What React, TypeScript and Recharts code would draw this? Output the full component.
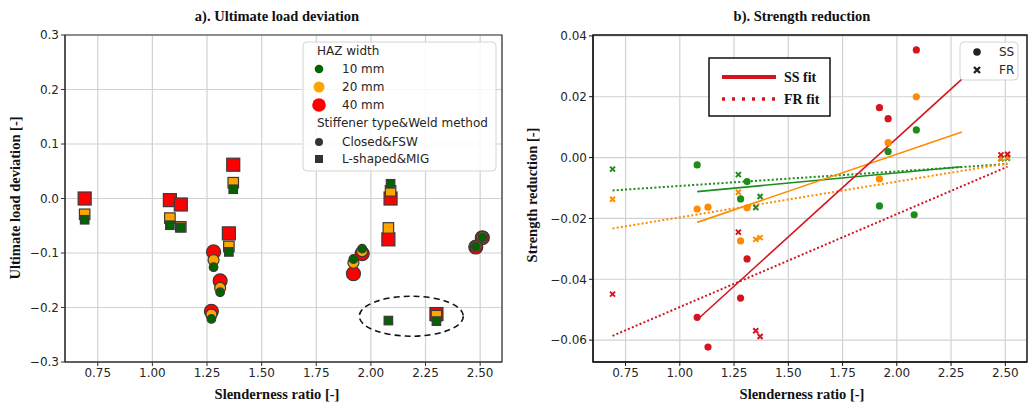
import {
  ScatterChart,
  Scatter,
  XAxis,
  YAxis,
  CartesianGrid,
  ReferenceArea,
  ReferenceDot,
} from "recharts";

// a). Ultimate load deviation -- squares = L-shaped&MIG, circles = Closed&FSW
const squareX = [0.69, 1.08, 1.13, 1.37, 1.35, 2.09, 2.08, 2.3];
const square10 = [-0.039, -0.049, -0.053, 0.017, -0.098, 0.027, -0.224, -0.225];
const square20 = [-0.029, -0.036, -0.052, 0.029, -0.088, 0.014, -0.054, -0.215];
const square40 = [0.0, -0.003, -0.011, 0.062, -0.064, 0.0, -0.075, -0.212];

const circleX = [1.28, 1.31, 1.27, 1.92, 1.96, 2.48, 2.51];
const circle10 = [-0.126, -0.172, -0.221, -0.111, -0.092, -0.088, -0.071];
const circle20 = [-0.113, -0.164, -0.213, -0.118, -0.097, -0.088, -0.071];
const circle40 = [-0.098, -0.151, -0.207, -0.138, -0.101, -0.089, -0.072];

// b). Strength reduction -- SS (circles) and FR (crosses)
const ssRedX = [1.08, 1.13, 1.28, 1.31, 1.92, 1.96, 2.09];
const ssRed = [-0.0525, -0.0623, -0.0462, -0.0333, 0.0164, 0.0128, 0.0354];
const ssOrangeX = [1.08, 1.13, 1.28, 1.31, 1.92, 1.96, 2.09];
const ssOrange = [-0.0169, -0.0163, -0.0274, -0.0165, -0.007, 0.0049, 0.02];
const ssGreenX = [1.08, 1.28, 1.31, 1.92, 1.96, 2.08, 2.09];
const ssGreen = [-0.0024, -0.0136, -0.0079, -0.0159, 0.002, -0.0188, 0.0091];

const frX = [0.69, 1.27, 1.35, 1.37, 2.48, 2.51];
const frGreen = [-0.0038, -0.0056, -0.0164, -0.0128, -0.0004, -0.0002];
const frOrange = [-0.0137, -0.0114, -0.0269, -0.0263, -0.0002, 0.0];
const frRed = [-0.0449, -0.0245, -0.0569, -0.0588, 0.0009, 0.0011];

// fitted lines (end points)
const ssFitX = [1.08, 2.3];
const ssFitRed = [-0.0533, 0.0258];
const ssFitOrange = [-0.0213, 0.0084];
const ssFitGreen = [-0.0112, -0.003];
const frFitX = [0.69, 2.51];
const frFitRed = [-0.0586, -0.003];
const frFitOrange = [-0.0233, -0.0019];
const frFitGreen = [-0.0108, -0.0021];

const xTicks = [0.75, 1.0, 1.25, 1.5, 1.75, 2.0, 2.25, 2.5];
const leftYTicks = [-0.3, -0.2, -0.1, 0, 0.1, 0.2, 0.3];
const rightYTicks = [-0.06, -0.04, -0.02, 0, 0.02, 0.04];

const pts = (xs: number[], ys: number[]) => xs.map((x, i) => ({ x, y: ys[i] }));

const fmt = (d: number) => (v: number) =>
  Math.abs(v) < 1e-9 ? (0).toFixed(d) : v < 0 ? "\u2212" + Math.abs(v).toFixed(d) : v.toFixed(d);

const LGREEN = "#006400";
const LORANGE = "#ffa500";
const LRED = "#ff0000";
const EDGE = "#3a3a3a";

const RGREEN = "#1c8c1c";
const RORANGE = "#ff8c00";
const RRED = "#d4141f";

const serif = "'Liberation Serif', 'DejaVu Serif', serif";
const sans = "'DejaVu Sans', sans-serif";
const tickStyle = { fontSize: 12, fontFamily: sans, fill: "#262626" };

const circleShape = (r: number, fill: string, stroke = EDGE) => (p: any) =>
  <circle cx={p.cx} cy={p.cy} r={r} fill={fill} stroke={stroke} strokeWidth={1.2} />;

const squareShape = (s: number, fill: string) => (p: any) =>
  <rect x={p.cx - s / 2} y={p.cy - s / 2} width={s} height={s} fill={fill} stroke={EDGE} strokeWidth={1.2} />;

const crossShape = (s: number, color: string) => (p: any) => (
  <path
    d={`M${p.cx - s / 2},${p.cy - s / 2}L${p.cx + s / 2},${p.cy + s / 2}M${p.cx - s / 2},${p.cy + s / 2}L${p.cx + s / 2},${p.cy - s / 2}`}
    stroke={color}
    strokeWidth={2}
    fill="none"
  />
);

const noShape = () => <g />;

const LeftChart = () => (
  <ScatterChart width={515} height={407} margin={{ top: 35, right: 13, bottom: 0, left: 0 }}>
    <CartesianGrid stroke="#d2d2d2" strokeWidth={1.2} />
    <XAxis
      type="number"
      dataKey="x"
      domain={[0.6, 2.6]}
      ticks={xTicks}
      interval={0}
      allowDataOverflow
      height={45}
      tickSize={4}
      tickFormatter={fmt(2)}
      tick={tickStyle}
      stroke="#333"
    />
    <YAxis
      type="number"
      dataKey="y"
      domain={[-0.3, 0.3]}
      ticks={leftYTicks}
      interval={0}
      allowDataOverflow
      width={65}
      tickSize={4}
      tickFormatter={fmt(1)}
      tick={tickStyle}
      stroke="#333"
    />
    <ReferenceArea x1={0.6} x2={2.6} y1={-0.3} y2={0.3} fill="none" stroke="#333" strokeWidth={1.2} />
    <Scatter data={pts(squareX, square40)} shape={squareShape(13, LRED)} isAnimationActive={false} />
    <Scatter data={pts(squareX, square20)} shape={squareShape(10.5, LORANGE)} isAnimationActive={false} />
    <Scatter data={pts(squareX, square10)} shape={squareShape(8.5, LGREEN)} isAnimationActive={false} />
    <Scatter data={pts(circleX, circle40)} shape={circleShape(7, LRED)} isAnimationActive={false} />
    <Scatter data={pts(circleX, circle20)} shape={circleShape(5.5, LORANGE)} isAnimationActive={false} />
    <Scatter data={pts(circleX, circle10)} shape={circleShape(4.3, LGREEN)} isAnimationActive={false} />
    <ReferenceDot
      x={2.185}
      y={-0.216}
      shape={(p: any) => (
        <ellipse cx={p.cx} cy={p.cy} rx={52} ry={20} fill="none" stroke="#111" strokeWidth={1.6} strokeDasharray="6 4" />
      )}
    />
  </ScatterChart>
);

const RightChart = () => (
  <ScatterChart width={514} height={407} margin={{ top: 35, right: 2, bottom: 0, left: 0 }}>
    <CartesianGrid stroke="#d2d2d2" strokeWidth={1.2} />
    <XAxis
      type="number"
      dataKey="x"
      domain={[0.6, 2.6]}
      ticks={xTicks}
      interval={0}
      allowDataOverflow
      height={45}
      tickSize={4}
      tickFormatter={fmt(2)}
      tick={tickStyle}
      stroke="#111"
    />
    <YAxis
      type="number"
      dataKey="y"
      domain={[-0.0672, 0.0403]}
      ticks={rightYTicks}
      interval={0}
      allowDataOverflow
      width={78}
      tickSize={4}
      tickFormatter={fmt(2)}
      tick={tickStyle}
      stroke="#111"
    />
    <ReferenceArea x1={0.6} x2={2.6} y1={-0.0672} y2={0.0403} fill="none" stroke="#111" strokeWidth={1.4} />
    <Scatter data={pts(frFitX, frFitGreen)} line={{ stroke: RGREEN, strokeWidth: 2, strokeDasharray: "2 2.2" }} shape={noShape} isAnimationActive={false} />
    <Scatter data={pts(frFitX, frFitOrange)} line={{ stroke: RORANGE, strokeWidth: 2, strokeDasharray: "2 2.2" }} shape={noShape} isAnimationActive={false} />
    <Scatter data={pts(frFitX, frFitRed)} line={{ stroke: RRED, strokeWidth: 2, strokeDasharray: "2 2.2" }} shape={noShape} isAnimationActive={false} />
    <Scatter data={pts(ssFitX, ssFitGreen)} line={{ stroke: RGREEN, strokeWidth: 1.6 }} shape={noShape} isAnimationActive={false} />
    <Scatter data={pts(ssFitX, ssFitOrange)} line={{ stroke: RORANGE, strokeWidth: 1.6 }} shape={noShape} isAnimationActive={false} />
    <Scatter data={pts(ssFitX, ssFitRed)} line={{ stroke: RRED, strokeWidth: 1.6 }} shape={noShape} isAnimationActive={false} />
    <Scatter data={pts(ssGreenX, ssGreen)} shape={circleShape(3.6, RGREEN, "none")} isAnimationActive={false} />
    <Scatter data={pts(ssOrangeX, ssOrange)} shape={circleShape(3.6, RORANGE, "none")} isAnimationActive={false} />
    <Scatter data={pts(ssRedX, ssRed)} shape={circleShape(3.6, RRED, "none")} isAnimationActive={false} />
    <Scatter data={pts(frX, frGreen)} shape={crossShape(5, RGREEN)} isAnimationActive={false} />
    <Scatter data={pts(frX, frOrange)} shape={crossShape(5, RORANGE)} isAnimationActive={false} />
    <Scatter data={pts(frX, frRed)} shape={crossShape(5, RRED)} isAnimationActive={false} />
  </ScatterChart>
);

const legendText = { fontFamily: sans, fontSize: 12, fill: "#262626" } as const;

const Overlay = () => (
  <svg width={1029} height={407} style={{ position: "absolute", left: 0, top: 0, pointerEvents: "none" }}>
    {/* titles and axis labels */}
    <g fontFamily={serif} fontWeight="bold" fontSize={14.5} fill="#111" textAnchor="middle">
      <text x={277} y={21}>a). Ultimate load deviation</text>
      <text x={802} y={21}>b). Strength reduction</text>
      <text x={277} y={399}>Slenderness ratio [-]</text>
      <text x={802} y={399}>Slenderness ratio [-]</text>
      <text transform="translate(20,198) rotate(-90)">Ultimate load deviation [-]</text>
      <text transform="translate(537,195) rotate(-90)">Strength reduction [-]</text>
    </g>

    {/* legend a) */}
    <rect x={303} y={42} width={193} height={129} rx={4} fill="rgba(255,255,255,0.85)" stroke="#d4d4d4" />
    <text x={317} y={55} {...legendText}>HAZ width</text>
    <circle cx={319} cy={69} r={4.3} fill={LGREEN} />
    <text x={342} y={73} {...legendText}>10 mm</text>
    <circle cx={319} cy={87} r={5.5} fill={LORANGE} />
    <text x={342} y={91} {...legendText}>20 mm</text>
    <circle cx={319} cy={105} r={6.8} fill={LRED} />
    <text x={342} y={109} {...legendText}>40 mm</text>
    <text x={317} y={127} {...legendText}>Stiffener type&amp;Weld method</text>
    <circle cx={319} cy={142} r={4} fill="#333" />
    <text x={342} y={146} {...legendText}>Closed&amp;FSW</text>
    <rect x={315} y={155} width={8} height={8} fill="#333" />
    <text x={342} y={163} {...legendText}>L-shaped&amp;MIG</text>

    {/* legend b) markers */}
    <rect x={960} y={42} width={58} height={38} rx={4} fill="rgba(255,255,255,0.85)" stroke="#d4d4d4" />
    <circle cx={977} cy={52} r={3.8} fill="#222" />
    <text x={999} y={56} {...legendText}>SS</text>
    <path d="M974,67L980,73M974,73L980,67" stroke="#222" strokeWidth={2.4} />
    <text x={999} y={74} {...legendText}>FR</text>

    {/* legend b) fits */}
    <rect x={709} y={58} width={121} height={58} fill="#fff" stroke="#111" strokeWidth={1.5} />
    <line x1={722} y1={77} x2={776} y2={77} stroke={RRED} strokeWidth={4} />
    <line x1={722} y1={99} x2={776} y2={99} stroke={RRED} strokeWidth={3.5} strokeDasharray="3 7" />
    <g fontFamily={serif} fontWeight="bold" fontSize={14} fill="#111">
      <text x={784} y={82}>SS fit</text>
      <text x={784} y={104}>FR fit</text>
    </g>
  </svg>
);

export default function App() {
  return (
    <div style={{ position: "fixed", left: 0, top: 0, width: 1029, height: 407, background: "#fff", overflow: "hidden" }}>
      <div style={{ position: "absolute", left: 0, top: 0 }}>
        <LeftChart />
      </div>
      <div style={{ position: "absolute", left: 515, top: 0 }}>
        <RightChart />
      </div>
      <Overlay />
    </div>
  );
}
